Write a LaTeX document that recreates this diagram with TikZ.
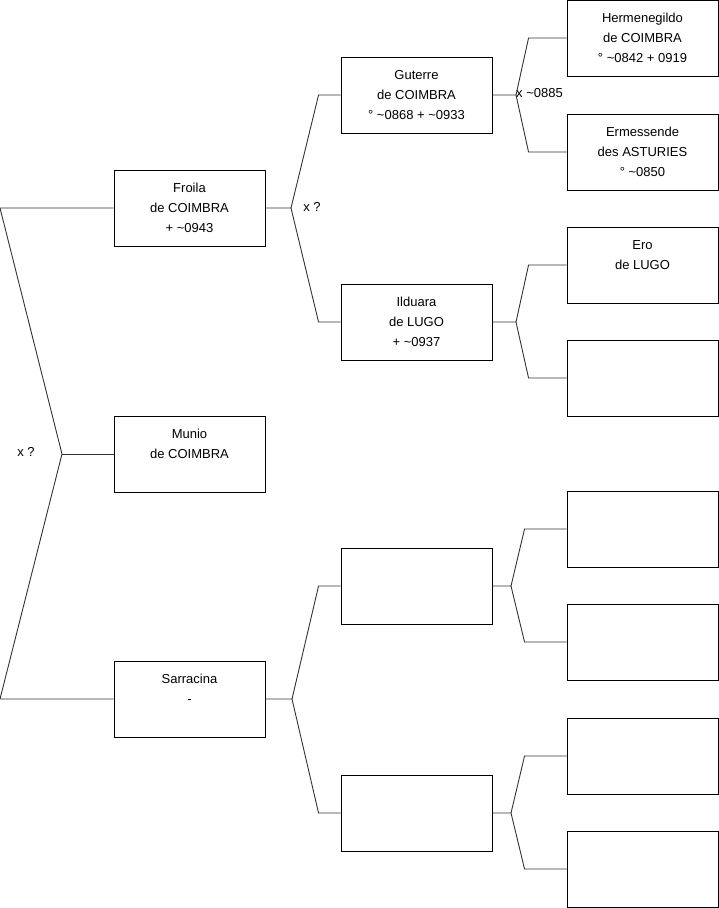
\documentclass[tikz,border=0pt]{standalone}
\usepackage{fontspec}
\setmainfont{Liberation Sans}
\begin{document}
\begin{tikzpicture}[x=1pt,y=-1pt,
  box/.style={draw=black, line width=0.9pt, minimum width=151pt, minimum height=76pt, inner sep=0pt, align=center, font=\fontsize{13}{20}\selectfont},
  conn/.style={draw=black!80, line width=0.9pt},
  lbl/.style={inner sep=0pt, font=\fontsize{13}{16}\selectfont}]
\useasboundingbox (0,0) rectangle (719,908);
% column 1
\node[box] (froila) at (189.5,208) {\strut Froila\\\strut de COIMBRA\\\strut + \textasciitilde0943};
\node[box] (munio) at (189.5,454) {\strut Munio\\\strut de COIMBRA\\\strut};
\node[box] (sarr) at (189.5,699) {\strut Sarracina\\\strut -\\\strut};
% column 2
\node[box] (gut) at (416.5,95) {\strut Guterre\\\strut de COIMBRA\\\strut ° \textasciitilde0868 + \textasciitilde0933};
\node[box] (ild) at (416.5,322) {\strut Ilduara\\\strut de LUGO\\\strut + \textasciitilde0937};
\node[box] (e1) at (416.5,586) {};
\node[box] (e2) at (416.5,813) {};
% column 3
\node[box] (herm) at (642.5,38) {\strut Hermenegildo\\\strut de COIMBRA\\\strut ° \textasciitilde0842 + 0919};
\node[box] (erm) at (642.5,152) {\strut Ermessende\\\strut des ASTURIES\\\strut ° \textasciitilde0850};
\node[box] (ero) at (642.5,265) {\strut Ero\\\strut de LUGO\\\strut};
\node[box] (f1) at (642.5,378) {};
\node[box] (f2) at (642.5,529) {};
\node[box] (f3) at (642.5,642) {};
\node[box] (f4) at (642.5,756) {};
\node[box] (f5) at (642.5,869) {};
% root connectors
\coordinate (a1) at (0,208);
\coordinate (j0) at (62,454);
\coordinate (a2) at (0,699);
\draw[conn] (froila.west) -- (a1) -- (j0) -- (a2) -- (sarr.west);
\draw[conn] (j0) -- (munio.west);
\node[lbl] (l0) at (26,452) {x ?};
% Froila children
\coordinate (j1) at (291,208);
\draw[conn] (froila.east) -- (j1) -- ([xshift=-22pt]gut.west) -- (gut.west);
\draw[conn] (j1) -- ([xshift=-22pt]ild.west) -- (ild.west);
\node[lbl] (l1) at (312,207) {x ?};
% Sarracina children
\coordinate (j2) at (292,699);
\draw[conn] (sarr.east) -- (j2) -- ([xshift=-22pt]e1.west) -- (e1.west);
\draw[conn] (j2) -- ([xshift=-22pt]e2.west) -- (e2.west);
% Guterre children
\coordinate (j3) at (516,95);
\draw[conn] (gut.east) -- (j3) -- ([xshift=-38pt]herm.west) -- (herm.west);
\draw[conn] (j3) -- ([xshift=-38pt]erm.west) -- (erm.west);
\node[lbl, anchor=west] (l2) at (516,93) {x \textasciitilde0885};
% Ilduara children
\coordinate (j4) at (516,322);
\draw[conn] (ild.east) -- (j4) -- ([xshift=-38pt]ero.west) -- (ero.west);
\draw[conn] (j4) -- ([xshift=-38pt]f1.west) -- (f1.west);
% empty col2 children
\coordinate (j5) at (511,586);
\draw[conn] (e1.east) -- (j5) -- ([xshift=-42pt]f2.west) -- (f2.west);
\draw[conn] (j5) -- ([xshift=-42pt]f3.west) -- (f3.west);
\coordinate (j6) at (511,813);
\draw[conn] (e2.east) -- (j6) -- ([xshift=-42pt]f4.west) -- (f4.west);
\draw[conn] (j6) -- ([xshift=-42pt]f5.west) -- (f5.west);
\end{tikzpicture}
\end{document}
